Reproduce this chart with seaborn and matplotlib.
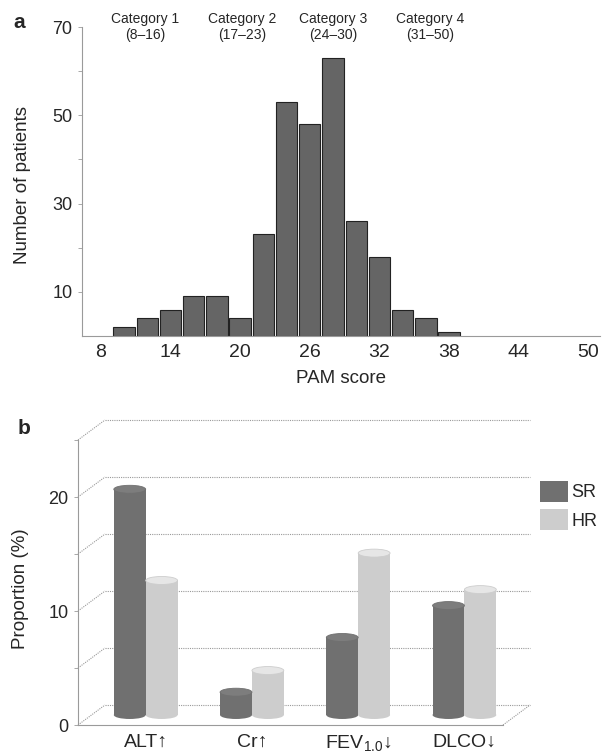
import matplotlib
matplotlib.use('Agg')
import matplotlib.pyplot as plt
from matplotlib.patches import Ellipse, Patch
import numpy as np
import pandas as pd
import seaborn as sns

# data
pam_centers = [10, 12, 14, 16, 18, 20, 22, 24, 26, 28, 30, 32, 34, 36, 38]
n_patients = [2, 4, 6, 9, 9, 4, 23, 53, 48, 63, 26, 18, 6, 4, 1]
pam_ticks = [8, 14, 20, 26, 32, 38, 44, 50]
category_names = ['Category 1', 'Category 2', 'Category 3', 'Category 4']
category_ranges = ['(8\u201316)', '(17\u201323)', '(24\u201330)', '(31\u201350)']

tests = ['ALT\u2191', 'Cr\u2191', 'FEV$_{\\mathregular{1.0}}$\u2193', 'DLCO\u2193']
sr_pct = [19.8, 2.0, 6.8, 9.6]
hr_pct = [11.8, 3.9, 14.2, 11.0]
groups = ['SR', 'HR']

sns.set_style('white')
plt.rcParams['font.family'] = ['Liberation Sans', 'DejaVu Sans']
plt.rcParams['mathtext.fontset'] = 'custom'
plt.rcParams['mathtext.rm'] = 'Liberation Sans'

W, H = 602, 755
fig = plt.figure(figsize=(W / 100, H / 100), dpi=100)


def px_axes(left, top, right, bottom):
    return fig.add_axes([left / W, 1 - bottom / H, (right - left) / W, (bottom - top) / H])


grey = '#9a9a9a'

# ---- panel a: histogram ----
ax1 = px_axes(82, 27, 600, 336)
hist_df = pd.DataFrame({'score': pam_centers, 'n': n_patients})
sns.barplot(data=hist_df, x='score', y='n', native_scale=True, width=0.92,
            color='#656565', edgecolor='#222222', linewidth=0.8, saturation=1, ax=ax1)
ax1.set_xlim(6.38, 51.0)
ax1.set_ylim(0, 70)
ax1.set_xticks(pam_ticks)
ax1.set_yticks([10, 30, 50, 70])
ax1.set_yticks([20, 40, 60], minor=True)
ax1.tick_params(axis='x', length=0, labelsize=14, pad=6)
ax1.tick_params(axis='y', which='both', left=True, length=3, width=0.6, color=grey,
                labelsize=13, pad=4)
for side in ['top', 'right']:
    ax1.spines[side].set_visible(False)
for side in ['left', 'bottom']:
    ax1.spines[side].set_color(grey)
    ax1.spines[side].set_linewidth(0.8)
    ax1.spines[side].set_linestyle((0, (1, 1)))
ax1.set_xlabel('PAM score', fontsize=13.5, labelpad=6)
ax1.set_ylabel('Number of patients', fontsize=13.5)
ax1.yaxis.set_label_coords(-0.098, 0.49)

cat_x = [11.8, 20.2, 28.0, 36.4]
for xc, name, rng in zip(cat_x, category_names, category_ranges):
    ax1.text(xc, 1.0, name + '\n' + rng, transform=ax1.get_xaxis_transform(),
             ha='center', va='center', fontsize=10, linespacing=1.15, clip_on=False)

fig.text(13 / W, 1 - 22 / H, 'a', fontsize=15, fontweight='bold', ha='left', va='center')

# ---- panel b: pseudo-3D cylinders ----
ax2 = px_axes(78, 440, 503, 725)
bar_df = pd.DataFrame({
    'test': tests * 2,
    'pct': sr_pct + hr_pct,
    'group': ['SR'] * len(tests) + ['HR'] * len(tests),
})
palette = {'SR': '#707070', 'HR': '#cdcdcd'}
sns.barplot(data=bar_df, x='test', y='pct', hue='group', hue_order=groups,
            palette=palette, width=0.6, gap=0, saturation=1, legend=False, ax=ax2)
xmin, xmax = -0.51, 3.49
ymax = 25
ax2.set_xlim(xmin, xmax)
ax2.set_ylim(0, ymax)

# depth of the box in data units (about 27 px right, 20 px up)
dx = 27 / (425 / (xmax - xmin))
dy = 20 / (285 / ymax)
ell_h = 0.7

for bar in list(ax2.patches):
    x0, w, h = bar.get_x(), bar.get_width(), bar.get_height()
    fc = bar.get_facecolor()
    bar.set_x(x0 + dx / 2)
    bar.set_y(dy / 2)
    bar.set_edgecolor('none')
    bar.set_zorder(3)
    xc = x0 + dx / 2 + w / 2
    ax2.add_patch(Ellipse((xc, dy / 2), w, ell_h, facecolor=fc, edgecolor='none', zorder=2.9))
    top = tuple(min(1, c * 1.12) for c in fc[:3])
    ax2.add_patch(Ellipse((xc, dy / 2 + h), w, ell_h, facecolor=top,
                          edgecolor=fc, linewidth=0.6, zorder=3.1))

line_kw = dict(color=grey, linewidth=0.8, linestyle=(0, (1, 1)), clip_on=False, zorder=1)
for v in range(0, ymax + 1, 5):
    ax2.plot([xmin + dx, xmax + dx], [v + dy, v + dy], **line_kw)
    ax2.plot([xmin, xmin + dx], [v, v + dy], **line_kw)
ax2.plot([xmax, xmax + dx], [0, dy], **line_kw)

for side in ['top', 'right']:
    ax2.spines[side].set_visible(False)
for side in ['left', 'bottom']:
    ax2.spines[side].set_color(grey)
    ax2.spines[side].set_linewidth(0.8)
    ax2.spines[side].set_linestyle((0, (1, 1)))

ax2.set_xticks(np.arange(len(tests)) + dx / 2, tests)
ax2.set_yticks([0, 10, 20])
ax2.set_yticks([5, 15, 25], minor=True)
ax2.tick_params(axis='x', length=0, labelsize=14, pad=6)
ax2.tick_params(axis='y', which='both', left=True, length=3, width=0.6, color=grey,
                labelsize=13, pad=4)
ax2.set_xlabel('')
ax2.set_ylabel('Proportion (%)', fontsize=13.5)
ax2.yaxis.set_label_coords(-0.115, 0.48)

handles = [Patch(facecolor=palette[g], edgecolor='none') for g in groups]
ax2.legend(handles, groups, loc='upper left', bbox_to_anchor=(540 / W, 1 - 481 / H),
           bbox_transform=fig.transFigure, frameon=False, fontsize=13,
           handlelength=1.55, handleheight=1.4, handletextpad=0.2,
           labelspacing=0.4, borderpad=0, borderaxespad=0)

fig.text(18 / W, 1 - 428 / H, 'b', fontsize=15, fontweight='bold', ha='left', va='center')

fig.savefig('out.png', dpi=100, facecolor='white')
